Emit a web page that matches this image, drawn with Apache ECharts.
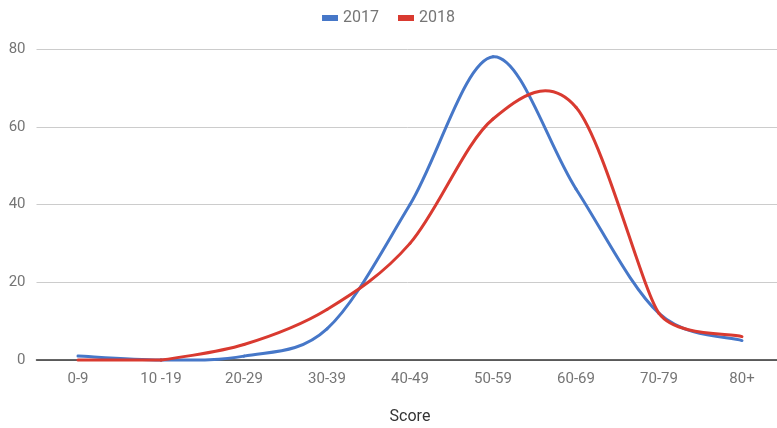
<!DOCTYPE html>
<html>
<head>
<meta charset="utf-8">
<script src="https://cdn.jsdelivr.net/npm/echarts@6/dist/echarts.min.js"></script>
<style>
  html, body { margin: 0; padding: 0; background: #fff; }
  #chart { width: 777px; height: 428px; }
</style>
</head>
<body>
<div id="chart"></div>
<script>
// Score bands on the x axis
const scoreBands = ['0-9', '10 -19', '20-29', '30-39', '40-49', '50-59', '60-69', '70-79', '80+'];
// Number of students per score band
const counts2017 = [1, 0, 1, 8, 40, 78, 44, 12, 5];
const counts2018 = [0, 0, 4, 13, 30, 62, 65, 12, 6];
const yTicks = [0, 20, 40, 60, 80];

const labelColor = '#757575';
const fontFamily = 'Roboto, "Noto Sans", sans-serif';
const blue = '#4677c8';
const red = '#d93a30';

// Catmull-Rom tangents, shortened at points on a rising/falling run so the
// control arm towards a non-peak neighbour never passes that neighbour's value.
function tangentScales(values) {
  const n = values.length;
  const idx = k => Math.max(0, Math.min(n - 1, k));
  const isPeak = k => k > 0 && k < n - 1 &&
    (values[k - 1] - values[k]) * (values[k + 1] - values[k]) > 0;
  return values.map((v, k) => {
    if (isPeak(k)) return 1;
    const arm = Math.abs(values[idx(k + 1)] - values[idx(k - 1)]) / 6;
    if (arm === 0) return 1;
    let s = 1;
    [k - 1, k + 1].forEach(j => {
      if (j < 0 || j >= n || isPeak(j)) return;
      s = Math.min(s, Math.abs(values[j] - v) / arm);
    });
    return s;
  });
}

// Each data item draws the cubic segment from its point to the next one.
function curveRenderer(values, color) {
  const n = values.length;
  const idx = k => Math.max(0, Math.min(n - 1, k));
  const scale = tangentScales(values);
  return function (params, api) {
    const i = params.dataIndex;
    if (i >= n - 1) return null;
    const pt = k => api.coord([idx(k), values[idx(k)]]);
    const p0 = pt(i - 1), p1 = pt(i), p2 = pt(i + 1), p3 = pt(i + 2);
    const s1 = scale[i] / 6, s2 = scale[i + 1] / 6;
    return {
      type: 'bezierCurve',
      shape: {
        x1: p1[0], y1: p1[1],
        cpx1: p1[0] + (p2[0] - p0[0]) * s1, cpy1: p1[1] + (p2[1] - p0[1]) * s1,
        cpx2: p2[0] - (p3[0] - p1[0]) * s2, cpy2: p2[1] - (p3[1] - p1[1]) * s2,
        x2: p2[0], y2: p2[1]
      },
      style: { stroke: color, fill: null, lineWidth: 3, lineCap: 'round' }
    };
  };
}

const chart = echarts.init(document.getElementById('chart'), null, { renderer: 'canvas' });

chart.setOption({
  animation: false,
  textStyle: { fontFamily: fontFamily },
  legend: {
    top: 5,
    left: 'center',
    itemWidth: 16,
    itemHeight: 6,
    itemGap: 19,
    icon: 'rect',
    textStyle: { color: labelColor, fontSize: 16, fontFamily: fontFamily },
    data: ['2017', '2018']
  },
  grid: {
    left: 36.5, right: -6.5, top: 49, bottom: 68,
    containLabel: false,
    outerBoundsMode: 'none'
  },
  xAxis: {
    type: 'category',
    data: scoreBands,
    boundaryGap: true,
    name: 'Score',
    nameLocation: 'middle',
    nameGap: 49,
    nameTextStyle: { color: '#333', fontSize: 16, fontFamily: fontFamily },
    axisLine: { lineStyle: { color: '#333', width: 1.5 } },
    axisTick: { show: false },
    axisLabel: { color: labelColor, fontSize: 15, margin: 12, fontFamily: fontFamily }
  },
  yAxis: {
    type: 'value',
    min: yTicks[0],
    max: yTicks[yTicks.length - 1],
    interval: yTicks[1] - yTicks[0],
    axisLine: { show: false },
    axisTick: { show: false },
    axisLabel: { color: labelColor, fontSize: 15, margin: 11, fontFamily: fontFamily },
    splitLine: { lineStyle: { color: '#cccccc', width: 1 } }
  },
  series: [
    {
      name: '2017',
      type: 'custom',
      data: counts2017.map((v, i) => [i, v]),
      encode: { x: 0, y: 1 },
      itemStyle: { color: blue },
      renderItem: curveRenderer(counts2017, blue)
    },
    {
      name: '2018',
      type: 'custom',
      data: counts2018.map((v, i) => [i, v]),
      encode: { x: 0, y: 1 },
      itemStyle: { color: red },
      renderItem: curveRenderer(counts2018, red)
    }
  ]
});
</script>
</body>
</html>
